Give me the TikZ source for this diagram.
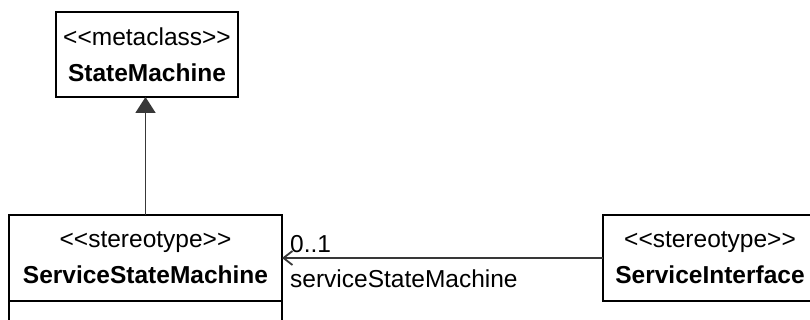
\documentclass[tikz,border=0pt]{standalone}
\usepackage{fontspec}
\setmainfont{Liberation Sans}
\usetikzlibrary{arrows.meta,positioning}

\begin{document}
\begin{tikzpicture}[
  x=1pt, y=1pt,
  umlclass/.style={draw, line width=1.7pt, align=center, inner sep=0pt, outer sep=0pt,
                   font=\fontsize{24.5}{36}\selectfont},
  general/.style={-{Triangle[length=16pt, width=20pt]}, line width=1.8pt, draw=black!78},
  assoc/.style={-{Straight Barb[length=9pt, width=14pt]}, line width=1.8pt, draw=black!78},
  lbl/.style={font=\fontsize{24.5}{26}\selectfont, inner sep=2pt}
]
\useasboundingbox (0,0) rectangle (810,320);

% === Metaclass ===
\node[umlclass, minimum width=182pt, minimum height=85pt] (sm) at (147,265.5)
  {\textless\kern0pt\textless metaclass\textgreater\kern0pt\textgreater\\\textbf{StateMachine}};

% === Stereotypes ===
\node[umlclass, minimum width=273pt, minimum height=86pt] (ssm) at (145.5,62)
  {\textless\kern0pt\textless stereotype\textgreater\kern0pt\textgreater\\\textbf{ServiceStateMachine}};
\node[umlclass, minimum width=273pt, minimum height=40pt, below=0pt of ssm] (ssmops) {};
\node[umlclass, minimum width=214pt, minimum height=86pt] (si) at (710,62)
  {\textless\kern0pt\textless stereotype\textgreater\kern0pt\textgreater\\\textbf{ServiceInterface}};

% Extension and association
\draw[general] (ssm.north) -- (ssm.north |- sm.south);
\draw[assoc] (si.west) -- (ssm.east);

\node[lbl, above right=3pt and 6pt of ssm.east] (mult) {0..1};
\node[lbl, below right=10pt and 6pt of ssm.east] (role) {serviceStateMachine};

\end{tikzpicture}
\end{document}
